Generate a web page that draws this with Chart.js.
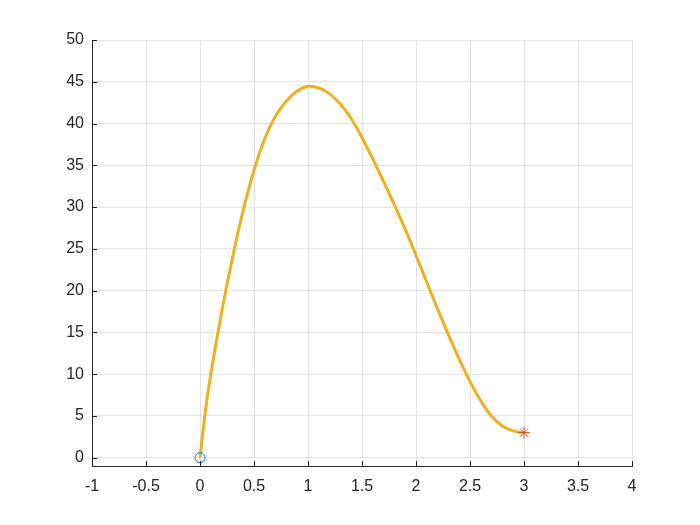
<!DOCTYPE html>
<html>
<head>
<meta charset="utf-8">
<script src="https://cdn.jsdelivr.net/npm/chart.js@4/dist/chart.umd.min.js"></script>
<style>
  html, body { margin:0; padding:0; background:#fff; }
  #wrap { width:700px; height:525px; }
</style>
</head>
<body>
<div id="wrap"><canvas id="grafico" width="700" height="525"></canvas></div>
<script>
// =====================================
// DADOS
// =====================================

const curvaX = [0, 0.05, 0.1, 0.2, 0.3, 0.4, 0.5, 0.6, 0.7, 0.8, 0.9, 1.0,
                1.1, 1.2, 1.3, 1.4, 1.5, 1.6, 1.7, 1.8, 1.9, 2.0,
                2.1, 2.2, 2.3, 2.4, 2.5, 2.6, 2.7, 2.8, 2.9, 3.0];
const curvaY = [0, 5.6, 10.0, 17.4, 23.9, 29.6, 34.4, 38.2, 40.9, 42.7, 43.9, 44.45,
                44.25, 43.55, 42.35, 40.6, 38.3, 35.75, 33.05, 30.25, 27.35, 24.2,
                21.0, 17.8, 14.7, 11.8, 9.1, 6.8, 4.95, 3.8, 3.2, 3.0];

const inicio = [0, 0];
const fim = [3, 3];

const limitesX = [-1, 4];
const limitesY = [-1, 50];
const passoX = 0.5;
const passoY = 5;

const corTexto = "#262626";
const corGrade = "#e3e3e3";


// =====================================
// TICKS PARA DENTRO (estilo matlab)
// =====================================

const ticksInternos = {
    id: "ticksInternos",
    afterDatasetsDraw(chart){
        const ctx = chart.ctx;
        const area = chart.chartArea;
        const sx = chart.scales.x;
        const sy = chart.scales.y;
        ctx.save();
        ctx.strokeStyle = corTexto;
        ctx.lineWidth = 1;
        ctx.beginPath();
        sx.ticks.forEach(t=>{
            const px = Math.round(sx.getPixelForValue(t.value)) + 0.5;
            ctx.moveTo(px, area.bottom);
            ctx.lineTo(px, area.bottom - 5);
        });
        sy.ticks.forEach(t=>{
            const py = Math.round(sy.getPixelForValue(t.value)) + 0.5;
            ctx.moveTo(area.left, py);
            ctx.lineTo(area.left + 5, py);
        });
        ctx.stroke();
        ctx.restore();
    }
};


// =====================================
// GRAFICO
// =====================================

const fonte = { family:"'Liberation Sans', Arial, Helvetica, sans-serif", size:16 };

new Chart(document.getElementById("grafico"),{
    type:"scatter",
    data:{
        datasets:[
            {
                data:[{x:inicio[0], y:inicio[1]}],
                pointStyle:"circle",
                pointRadius:5,
                pointBorderColor:"#0072BD",
                pointBackgroundColor:"rgba(0,0,0,0)",
                pointBorderWidth:1,
                showLine:false
            },
            {
                data:[{x:fim[0], y:fim[1]}],
                pointStyle:"star",
                pointRadius:6,
                pointBorderColor:"#D95319",
                pointBackgroundColor:"#D95319",
                pointBorderWidth:1,
                showLine:false
            },
            {
                data: curvaX.map((x,i)=>({x:x, y:curvaY[i]})),
                showLine:true,
                borderColor:"#EDB120",
                borderWidth:3,
                pointRadius:0,
                tension:0.4,
                fill:false
            }
        ]
    },
    options:{
        responsive:false,
        animation:false,
        events:[],
        layout:{ padding:{ left:0, right:68, top:40, bottom:0 } },
        plugins:{ legend:{display:false}, tooltip:{enabled:false} },
        scales:{
            x:{
                type:"linear",
                min:limitesX[0],
                max:limitesX[1],
                afterBuildTicks(scale){
                    const t = [];
                    for(let v = limitesX[0]; v <= limitesX[1] + 1e-9; v += passoX)
                        t.push({value: Math.round(v*10)/10});
                    scale.ticks = t;
                },
                afterFit(scale){ scale.height = 59; },
                ticks:{
                    color:corTexto,
                    font:fonte,
                    padding:11,
                    maxRotation:0,
                    autoSkip:false,
                    callback:v=>String(v)
                },
                grid:{ color:corGrade, lineWidth:1, drawTicks:false },
                border:{ color:corTexto, width:1 }
            },
            y:{
                type:"linear",
                min:limitesY[0],
                max:limitesY[1],
                afterBuildTicks(scale){
                    const t = [];
                    for(let v = 0; v <= limitesY[1]; v += passoY)
                        t.push({value:v});
                    scale.ticks = t;
                },
                afterFit(scale){ scale.width = 92; },
                ticks:{
                    color:corTexto,
                    font:fonte,
                    padding:8,
                    autoSkip:false,
                    callback:v=>String(v)
                },
                grid:{ color:corGrade, lineWidth:1, drawTicks:false },
                border:{ color:corTexto, width:1 }
            }
        }
    },
    plugins:[ticksInternos]
});
</script>
</body>
</html>
